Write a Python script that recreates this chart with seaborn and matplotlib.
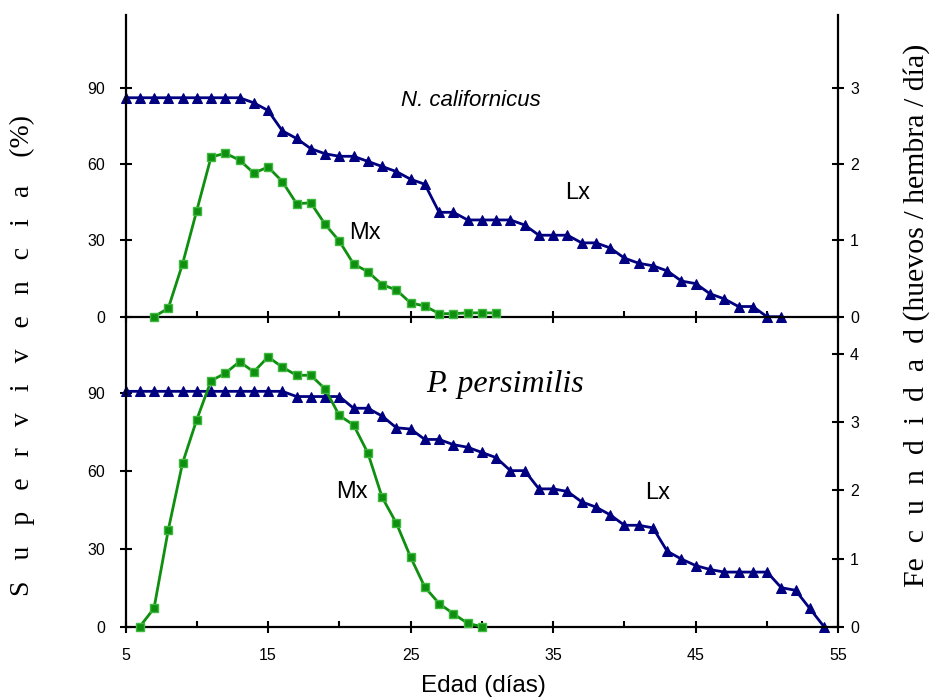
import matplotlib
matplotlib.use("Agg")
import matplotlib.pyplot as plt
import seaborn as sns
from matplotlib.ticker import FixedLocator

sns.set_theme(style="white")
plt.rcParams["font.family"] = ["Liberation Sans", "DejaVu Sans"]
plt.rcParams.update({"text.color": "black", "xtick.labelcolor": "black",
                     "ytick.labelcolor": "black", "axes.labelcolor": "black"})

# ---- N. californicus ----
nc_lx_days = list(range(5, 52))
nc_lx = [86, 86, 86, 86, 86, 86, 86, 86, 86, 84, 81, 73, 70, 66, 64, 63, 63,
         61, 59, 57, 54, 52, 41, 41, 38, 38, 38, 38, 36, 32, 32, 32, 29, 29,
         27, 23, 21, 20, 18, 14, 13, 9, 7, 4, 4, 0, 0]
nc_mx_days = list(range(7, 32))
nc_mx = [0.0, 0.11, 0.69, 1.39, 2.09, 2.14, 2.05, 1.88, 1.96, 1.77, 1.48, 1.49,
         1.21, 0.99, 0.69, 0.59, 0.42, 0.35, 0.18, 0.14, 0.04, 0.04, 0.05,
         0.05, 0.05]

# ---- P. persimilis ----
pp_lx_days = list(range(5, 55))
pp_lx = [90.5, 90.5, 90.5, 90.5, 90.5, 90.5, 90.5, 90.5, 90.5, 90.5, 90.5,
         90.5, 88.5, 88.5, 88.5, 88.5, 84, 84, 81, 76.5, 76, 72, 72, 70, 69,
         67, 65, 60, 60, 53, 53, 52, 48, 46, 43, 39, 39, 38, 29, 26, 23.5, 22,
         21, 21, 21, 21, 15, 14, 7, 0]
pp_mx_days = list(range(6, 31))
pp_mx = [0.0, 0.27, 1.42, 2.40, 3.04, 3.61, 3.72, 3.89, 3.74, 3.96, 3.81, 3.69,
         3.69, 3.49, 3.10, 2.96, 2.55, 1.90, 1.52, 1.02, 0.58, 0.34, 0.19,
         0.05, 0.0]

x_major = [5, 15, 25, 35, 45, 55]
x_minor = [10, 20, 30, 40, 50]
surv_ticks = [0, 30, 60, 90]

LX_COLOR = "#000080"
MX_COLOR = "#0f8f0f"
MX_EDGE = "#3fb83f"
SERIF = ["Liberation Serif", "DejaVu Serif"]

W, H = 935, 698
fig = plt.figure(figsize=(W / 100, H / 100), dpi=100)
fig.patch.set_facecolor("white")

left = 125.5 / W
width = (838.3 - 125.5) / W
y_mid = 1 - 316.7 / H
y_top = 1 - 15 / H
y_bot = 1 - 626.7 / H

ax_top = fig.add_axes([left, y_mid, width, y_top - y_mid])
ax_bot = fig.add_axes([left, y_bot, width, y_mid - y_bot])


def style_panel(ax, rax, ylim_l, ylim_r, rticks, show_xlabels):
    ax.set_facecolor("none")
    rax.set_facecolor("none")
    ax.set_xlim(5, 55)
    ax.set_ylim(*ylim_l)
    rax.set_ylim(*ylim_r)
    for a in (ax, rax):
        for s in a.spines.values():
            s.set_visible(False)
    for s in ("left", "bottom"):
        ax.spines[s].set_visible(True)
        ax.spines[s].set_color("black")
        ax.spines[s].set_linewidth(1.6)
    rax.spines["right"].set_visible(True)
    rax.spines["right"].set_color("black")
    rax.spines["right"].set_linewidth(1.6)

    ax.xaxis.set_major_locator(FixedLocator(x_major))
    ax.xaxis.set_minor_locator(FixedLocator(x_minor))
    ax.yaxis.set_major_locator(FixedLocator(surv_ticks))
    rax.yaxis.set_major_locator(FixedLocator(rticks))

    ax.tick_params(axis="x", which="major", direction="inout", length=9,
                   width=1.5, color="black", labelcolor="black", pad=11,
                   labelsize=11.5, labelbottom=show_xlabels, bottom=True)
    ax.tick_params(axis="x", which="minor", direction="in", length=4,
                   width=1.5, color="black", bottom=True)
    ax.tick_params(axis="y", which="major", direction="inout", length=9,
                   width=1.5, color="black", labelcolor="black", pad=10,
                   labelsize=11.5, left=True, right=False)
    rax.tick_params(axis="y", which="major", direction="inout", length=9,
                    width=1.5, color="black", labelcolor="black", pad=4,
                    labelsize=11.5, right=True, left=False)
    ax.grid(False)
    rax.grid(False)
    ax.set_xlabel("")
    ax.set_ylabel("")
    rax.set_ylabel("")


def draw_series(ax, rax, lx_d, lx, mx_d, mx):
    sns.lineplot(x=lx_d, y=lx, ax=ax, color=LX_COLOR, linewidth=2,
                 marker="^", markersize=7, markerfacecolor=LX_COLOR,
                 markeredgecolor=LX_COLOR, clip_on=False, legend=False)
    sns.lineplot(x=mx_d, y=mx, ax=rax, color=MX_COLOR, linewidth=2,
                 marker="s", markersize=6, markerfacecolor=MX_COLOR,
                 markeredgecolor=MX_EDGE, markeredgewidth=1,
                 clip_on=False, legend=False)


rax_top = ax_top.twinx()
draw_series(ax_top, rax_top, nc_lx_days, nc_lx, nc_mx_days, nc_mx)
style_panel(ax_top, rax_top, (0, 118.5), (0, 118.5 / 30), [0, 1, 2, 3], False)

rax_bot = ax_bot.twinx()
draw_series(ax_bot, rax_bot, pp_lx_days, pp_lx, pp_mx_days, pp_mx)
style_panel(ax_bot, rax_bot, (0, 119.2), (0, 4.55), [0, 1, 2, 3, 4], True)

# Panel annotations
ax_top.text(29.2, 85.1, "N. californicus", style="italic", fontsize=16,
            ha="center", va="center", color="black")
ax_top.text(36.7, 48.5, "Lx", fontsize=17, ha="center", va="center")
ax_top.text(21.8, 32.8, "Mx", fontsize=17, ha="center", va="center")

ax_bot.text(31.6, 93, "P. persimilis", style="italic", fontsize=23,
            family=SERIF, ha="center", va="center", color="black")
ax_bot.text(20.9, 51.8, "Mx", fontsize=17, ha="center", va="center")
ax_bot.text(42.3, 51.4, "Lx", fontsize=17, ha="center", va="center")

# Axis titles
fig.text(483 / W, 1 - 686 / H, "Edad (días)", fontsize=17.5,
         ha="center", va="center")
fig.text(22 / W, 1 - 355 / H,
         "S   u   p   e   r   v   i   v   e   n   c   i   a    (%)",
         rotation=90, fontsize=20, family=SERIF, ha="center", va="center")
fig.text(917 / W, 1 - 315 / H,
         "Fe  c  u  n  d  i  d  a  d (huevos / hembra / día)",
         rotation=90, fontsize=21.5, family=SERIF, ha="center", va="center")

fig.savefig("out.png", dpi=100, facecolor="white")
